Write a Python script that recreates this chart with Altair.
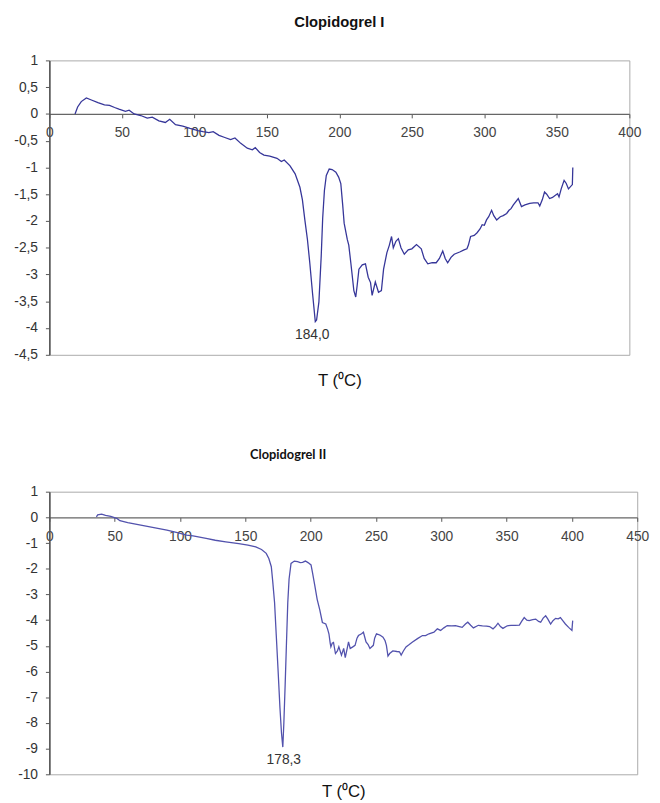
import altair as alt
import pandas as pd

# ---- Clopidogrel I (DSC curve) ----
t1 = [17.7, 19.5, 22, 25.5, 29, 33.5, 38, 41.5, 45, 48, 52.5, 55, 58.5, 63, 67.5, 71, 75.5, 80, 83, 87,
      92, 97, 102.5, 106, 110, 113, 117, 121, 125, 128, 132, 136.5, 140, 142, 145, 148, 152, 157, 160, 162,
      166, 169.5, 172.8, 174.5, 176.2, 178, 179.6, 181.5, 183.4, 184.3, 185.9, 187.5, 188.5, 189.7, 191, 193,
      195, 197.6, 199.5, 201, 202.3, 203.3, 205.5, 206.5, 207.9, 209, 210, 211.3, 212.3, 213.5, 215.8, 218,
      219.9, 221.5, 222.6, 224.8, 227, 229, 230.5, 232.8, 234.5, 236, 237.2, 239, 240.7, 242.5, 244.8, 247.5,
      250, 253.2, 256.5, 258.5, 261, 264, 266.8, 269, 271.3, 273, 274.7, 277, 279.2, 283, 286, 288, 289,
      290.5, 293, 295, 297, 298.5, 300, 301.5, 303, 305, 306.5, 308.5, 311, 313, 315.4, 317, 318.4, 320,
      323.4, 325.6, 328, 331.3, 334, 337, 338.2, 340, 341.5, 343, 345, 347, 349, 350.5, 351.5, 353, 355,
      356.5, 358, 360.7, 361]
v1 = [0.0, 0.13, 0.23, 0.30, 0.26, 0.21, 0.17, 0.16, 0.12, 0.09, 0.05, 0.07, 0.0, -0.03, -0.08, -0.06, -0.13,
      -0.16, -0.10, -0.20, -0.23, -0.27, -0.31, -0.33, -0.35, -0.33, -0.40, -0.44, -0.48, -0.45, -0.55, -0.64,
      -0.67, -0.63, -0.72, -0.77, -0.79, -0.83, -0.89, -0.86, -0.97, -1.12, -1.37, -1.6, -1.98, -2.35, -2.78,
      -3.35, -3.88, -3.85, -3.51, -2.65, -1.95, -1.43, -1.15, -1.03, -1.04, -1.09, -1.18, -1.3, -1.7, -2.04,
      -2.35, -2.45, -2.78, -3.05, -3.3, -3.42, -3.2, -2.9, -2.82, -2.8, -3.05, -3.15, -3.39, -3.14, -3.33,
      -3.3, -2.9, -2.59, -2.45, -2.29, -2.5, -2.38, -2.33, -2.5, -2.62, -2.54, -2.52, -2.44, -2.52, -2.7,
      -2.8, -2.78, -2.78, -2.7, -2.56, -2.7, -2.78, -2.68, -2.62, -2.58, -2.54, -2.52, -2.45, -2.29, -2.27,
      -2.22, -2.15, -2.07, -2.08, -1.98, -1.92, -1.8, -1.9, -1.98, -1.92, -1.9, -1.86, -1.8, -1.77, -1.7,
      -1.58, -1.73, -1.7, -1.67, -1.66, -1.66, -1.72, -1.6, -1.46, -1.5, -1.58, -1.56, -1.52, -1.49, -1.55,
      -1.4, -1.24, -1.3, -1.4, -1.32, -1.0]

# ---- Clopidogrel II (DSC curve) ----
t2 = [36, 37, 40, 43, 47, 52, 54, 60, 70, 80, 90, 99.5, 105, 110, 120, 127, 135, 145, 152, 158, 162.4, 166,
      168, 169.9, 171, 172.4, 173.7, 175, 176.5, 177.7, 178.7, 179.5, 180.5, 181.5, 182.5, 183.5, 185, 187.5,
      190, 192, 193.8, 196, 198, 200.3, 201.5, 203, 205, 207, 209, 211.6, 213, 214, 215, 215.5, 216.5, 217.5,
      219, 220.5, 221.6, 223.6, 225.3, 226.5, 228, 229, 230.3, 232, 234, 235.5, 236.6, 239, 240.4, 242.4, 244,
      245.4, 248, 249, 250.4, 253, 255.4, 257, 258, 259.2, 260.5, 262.9, 266, 268, 269.3, 271, 273, 275.5,
      278, 281.8, 285.6, 288, 290.6, 294.4, 297, 299.5, 302, 304.6, 308, 310.9, 313, 316, 318.5, 320.3,
      322.5, 324.6, 328.4, 331.5, 334.7, 337, 339.6, 341.5, 343.4, 345.3, 347.2, 350.5, 353.5, 356.5, 359.8,
      361.5, 363.5, 365.5, 367.3, 370, 372.3, 374.5, 376.1, 378, 379.9, 381.5, 383.7, 385.5, 387.5, 389.5,
      391.2, 393, 395, 397.5, 400, 400.6]
v2 = [0.02, 0.1, 0.13, 0.08, 0.04, -0.05, -0.13, -0.2, -0.3, -0.4, -0.5, -0.61, -0.69, -0.72, -0.82, -0.89,
      -0.95, -1.02, -1.08, -1.15, -1.25, -1.4, -1.6, -1.92, -2.5, -3.32, -4.6, -5.87, -7.4, -8.4, -8.94, -8.0,
      -6.51, -4.9, -3.32, -2.4, -1.79, -1.7, -1.72, -1.76, -1.75, -1.7, -1.76, -1.85, -2.17, -2.6, -3.19, -3.6,
      -4.09, -4.15, -4.35, -4.53, -4.9, -5.04, -4.9, -4.87, -5.3, -5.2, -5.04, -5.36, -5.1, -5.46, -5.1, -4.85,
      -5.1, -5.05, -4.98, -4.7, -4.6, -4.53, -4.47, -4.85, -4.95, -5.1, -4.98, -4.7, -4.53, -4.58, -4.66, -4.8,
      -4.98, -5.4, -5.3, -5.2, -5.22, -5.23, -5.36, -5.2, -5.04, -4.95, -4.85, -4.72, -4.6, -4.6, -4.53, -4.47,
      -4.34, -4.4, -4.3, -4.21, -4.22, -4.21, -4.24, -4.28, -4.15, -4.08, -4.2, -4.3, -4.2, -4.22, -4.23, -4.25,
      -4.34, -4.25, -4.12, -4.25, -4.32, -4.22, -4.2, -4.2, -4.19, -4.05, -3.9, -4.0, -4.02, -3.98, -3.96,
      -4.05, -4.08, -3.92, -3.83, -3.95, -4.15, -4.02, -3.93, -3.95, -3.9, -4.02, -4.15, -4.28, -4.4, -4.02]

# peak annotations
peak1_t, peak1_v, peak1_lab = [184.0], [-3.88], ["184,0"]
peak2_t, peak2_v, peak2_lab = [178.7], [-8.94], ["178,3"]

x_ticks1 = list(range(0, 401, 50))
x_ticks2 = list(range(0, 451, 50))
y_ticks1 = [1, 0.5, 0, -0.5, -1, -1.5, -2, -2.5, -3, -3.5, -4, -4.5]
y_ticks2 = [1, 0, -1, -2, -3, -4, -5, -6, -7, -8, -9, -10]

FONT = "Liberation Sans"
LABEL_EXPR = "replace(toString(datum.value), '.', ',')"


def panel(t, v, pt, pv, plab, xticks, yticks, w, h, color, title, title_font, title_size,
          title_dx, xtitle_gap, ann_dx, ann_dy):
    df = pd.DataFrame({"T": t, "v": v})
    ann = pd.DataFrame({"T": pt, "v": pv, "lab": plab})
    xmax = xticks[-1]
    ymin, ymax = yticks[-1], yticks[0]
    zero_from_top = h * (ymax - 0) / (ymax - ymin)
    off = -(h - zero_from_top)
    xscale = alt.Scale(domain=[0, xmax], nice=False, zero=False)
    yscale = alt.Scale(domain=[ymin, ymax], nice=False, zero=False)
    xaxis = alt.Axis(values=xticks, tickCount=40, offset=off, title="T (\u2070C)", titleFont=FONT,
                     titleFontSize=17, titleFontWeight="normal", titleColor="#111",
                     titleBaseline="middle", titleY=(h - zero_from_top) + xtitle_gap,
                     labelFont=FONT, labelFontSize=14, labelColor="#444", labelPadding=8,
                     tickSize=4, tickColor="#555", domainColor="#666", domainWidth=1.2,
                     grid=False, labelFlush=False, labelOverlap=False)
    yaxis = alt.Axis(values=yticks, tickCount=40, labelExpr=LABEL_EXPR, title=None, labelFont=FONT,
                     labelFontSize=14, labelColor="#333", labelPadding=8, tickSize=4,
                     tickColor="#555", domainColor="#555", domainWidth=1.6, grid=False,
                     minExtent=37, labelFlush=False, labelOverlap=False)
    line = alt.Chart(df).mark_line(color=color, strokeWidth=1.3).encode(
        x=alt.X("T:Q", scale=xscale, axis=xaxis),
        y=alt.Y("v:Q", scale=yscale, axis=yaxis),
    )
    txt = alt.Chart(ann).mark_text(font=FONT, fontSize=14, color="#333", dx=ann_dx, dy=ann_dy,
                                   baseline="middle").encode(
        x=alt.X("T:Q", scale=xscale),
        y=alt.Y("v:Q", scale=yscale),
        text="lab:N",
    )
    return alt.layer(line, txt).properties(
        width=w, height=h,
        title=alt.TitleParams(title, font=title_font, fontSize=title_size, fontWeight="bold",
                              color="#111", anchor="middle", frame="group", baseline="middle",
                              offset=17, dx=title_dx),
    )


c1 = panel(t1, v1, peak1_t, peak1_v, peak1_lab, x_ticks1, y_ticks1, 589, 299, "#363699",
           "Clopidogrel I", FONT, 15, 0, 26, -4, 14)
c2 = panel(t2, v2, peak2_t, peak2_v, peak2_lab, x_ticks2, y_ticks2, 597, 287, "#5252ad",
           "Clopidogrel II", "Lato", 13, -56, 18, 1, 13)

chart = alt.vconcat(c1, c2, spacing=60).properties(
    padding={"left": 4, "top": 0, "right": 2, "bottom": 0}
).configure_view(stroke="#aaaaaa", strokeWidth=1)

chart.save("out.html", embed_options={"renderer": "svg", "actions": False})
